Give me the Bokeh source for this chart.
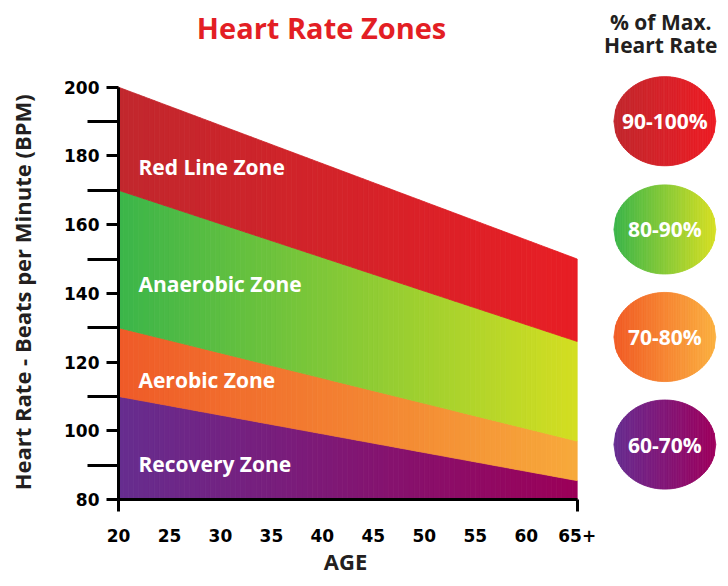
import numpy as np
from bokeh.plotting import figure
from bokeh.models import FixedTicker, ColumnDataSource, Range1d, LinearAxis
from bokeh.embed import file_html
from bokeh.resources import INLINE
from bokeh.core.properties import value

# ---------------- data ----------------
age_span = [20, 65]
age_ticks = [20, 25, 30, 35, 40, 45, 50, 55, 60, 65]
age_tick_labels = ["20", "25", "30", "35", "40", "45", "50", "55", "60", "65+"]
bpm_span = [80, 200]
bpm_ticks = [80, 100, 120, 140, 160, 180, 200]
bpm_minor_ticks = [90, 110, 130, 150, 170, 190]
floor_bpm = 80
zone_names = ["Recovery Zone", "Aerobic Zone", "Anaerobic Zone", "Red Line Zone"]
zone_pct = ["60-70%", "70-80%", "80-90%", "90-100%"]
zone_top_at_20 = [110, 130, 170, 200]
zone_top_at_65 = [85.5, 97, 126, 150]

# ---------------- styles / positions ----------------
zone_color_left = ["#662D8F", "#EF5A28", "#3AB54A", "#C1272D"]
zone_color_right = ["#9B0058", "#F7A93B", "#D4DE21", "#E81E25"]
circ_color_left = ["#662D91", "#F15A24", "#39B54A", "#C1272D"]
circ_color_right = ["#9E005D", "#FBB040", "#D7DF23", "#ED1C24"]
label_y = [90.4, 114.9, 142.6, 176.7]
label_x = 21.96
circ_cx = 73.6
circ_cy = [96.0, 127.3, 158.6, 190.1]
circ_a = 5.0
circ_b = 12.97
FONT = "Open Sans"
DARK = "#231F20"
W, H = 720, 578
# pixel mapping (frame covers the whole canvas)
SX = 10.193   # px per year
SY = 3.436    # px per bpm
X0 = 20 - 118 / SX
Y1 = 200 + 86.7 / SY


def hex2rgb(h):
    h = h.lstrip("#")
    return np.array([int(h[i:i + 2], 16) for i in (0, 2, 4)], dtype=float)


def mix(c1, c2, t):
    c = hex2rgb(c1) * (1 - t) + hex2rgb(c2) * t
    return "#%02x%02x%02x" % tuple(int(round(v)) for v in c)


p = figure(width=W, height=H, output_backend="svg", toolbar_location=None,
           x_range=Range1d(X0, X0 + W / SX), y_range=Range1d(Y1 - H / SY, Y1),
           x_axis_location=None, y_axis_location=None,
           min_border=0, min_border_left=0, min_border_right=0,
           min_border_top=0, min_border_bottom=0)
p.title.text = ""
p.xgrid.visible = False
p.ygrid.visible = False
p.outline_line_color = None
p.background_fill_color = "white"
p.border_fill_color = "white"

# ---------------- zone bands (horizontal gradient via strips) ----------------
N = 90
edges = np.linspace(age_span[0], age_span[1], N + 1)
xs, ys, cols = [], [], []
for i in range(len(zone_names)):
    bl = floor_bpm if i == 0 else zone_top_at_20[i - 1]
    br = floor_bpm if i == 0 else zone_top_at_65[i - 1]
    tl, tr = zone_top_at_20[i], zone_top_at_65[i]
    bot = np.interp(edges, age_span, [bl, br])
    top = np.interp(edges, age_span, [tl, tr])
    for j in range(N):
        xs.append([edges[j], edges[j + 1], edges[j + 1], edges[j]])
        ys.append([bot[j], bot[j + 1], top[j + 1], top[j]])
        cols.append(mix(zone_color_left[i], zone_color_right[i], (j + 0.5) / N))
src = ColumnDataSource(dict(xs=xs, ys=ys, c=cols))
p.patches("xs", "ys", source=src, fill_color="c", line_color="c", line_width=0.8)

# ---------------- circles (ellipses with gradient) ----------------
M = 60
exs, eys, ecols = [], [], []
xe = np.linspace(circ_cx - circ_a, circ_cx + circ_a, M + 1)
half = circ_b * np.sqrt(np.clip(1 - ((xe - circ_cx) / circ_a) ** 2, 0, None))
for i in range(len(zone_pct)):
    cy = circ_cy[i]
    for j in range(M):
        exs.append([xe[j], xe[j + 1], xe[j + 1], xe[j]])
        eys.append([cy - half[j], cy - half[j + 1], cy + half[j + 1], cy + half[j]])
        ecols.append(mix(circ_color_left[i], circ_color_right[i], (j + 0.5) / M))
esrc = ColumnDataSource(dict(xs=exs, ys=eys, c=ecols))
p.patches("xs", "ys", source=esrc, fill_color="c", line_color="c", line_width=0.8)

# ---------------- texts ----------------
def txt(x, y, s, color, size, align="center", angle=0.0):
    p.text(x=[x], y=[y], text=[s], text_color=color, angle=angle,
           text_font=value(FONT), text_font_style="bold", text_font_size=size,
           text_align=align, text_baseline="middle")


p.text(x=[label_x] * 4, y=label_y, text=zone_names, text_color="white",
       text_font=value(FONT), text_font_style="bold", text_font_size="21px",
       text_align="left", text_baseline="middle")
p.text(x=[circ_cx] * 4, y=circ_cy, text=zone_pct, text_color="white",
       text_font=value(FONT), text_font_style="bold", text_font_size="21px",
       text_align="center", text_baseline="middle")

txt(39.92, 217.3, "Heart Rate Zones", "#E31E24", "29px")
txt(73.2, 218.9, "% of Max.", DARK, "21px")
txt(73.2, 212.3, "Heart Rate", DARK, "21px")
txt(10.55, 140.3, "Heart Rate - Beats per Minute (BPM)", DARK, "22px", angle=np.pi / 2)
txt(42.27, 62.2, "AGE", DARK, "22px")

# ---------------- axes ----------------
ya = LinearAxis(fixed_location=20)
ya.ticker = FixedTicker(ticks=bpm_ticks, minor_ticks=bpm_minor_ticks)
ya.bounds = tuple(bpm_span)
ya.axis_line_width = 3
ya.axis_line_color = "black"
ya.major_tick_in = 0
ya.major_tick_out = 12
ya.minor_tick_in = 0
ya.minor_tick_out = 31
ya.major_tick_line_width = 3
ya.minor_tick_line_width = 3
ya.major_tick_line_color = "black"
ya.minor_tick_line_color = "black"
ya.major_label_standoff = -12
ya.major_label_text_font = "DejaVu Sans"
ya.major_label_text_font_style = "bold"
ya.major_label_text_font_size = "17px"
ya.major_label_text_color = "black"
p.add_layout(ya, "left")

xa = LinearAxis(fixed_location=80)
xa.ticker = FixedTicker(ticks=age_ticks, minor_ticks=age_span)
xa.bounds = tuple(age_span)
xa.axis_line_width = 3
xa.axis_line_color = "black"
xa.major_tick_in = 0
xa.major_tick_out = 0
xa.major_tick_line_color = None
xa.minor_tick_in = 0
xa.minor_tick_out = 12
xa.minor_tick_line_width = 3
xa.minor_tick_line_color = "black"
xa.major_label_standoff = 17
xa.major_label_overrides = {t: l for t, l in zip(age_ticks, age_tick_labels)}
xa.major_label_text_font = "DejaVu Sans"
xa.major_label_text_font_style = "bold"
xa.major_label_text_font_size = "17px"
xa.major_label_text_color = "black"
p.add_layout(xa, "below")

open("out.html", "w").write(file_html(p, INLINE))
